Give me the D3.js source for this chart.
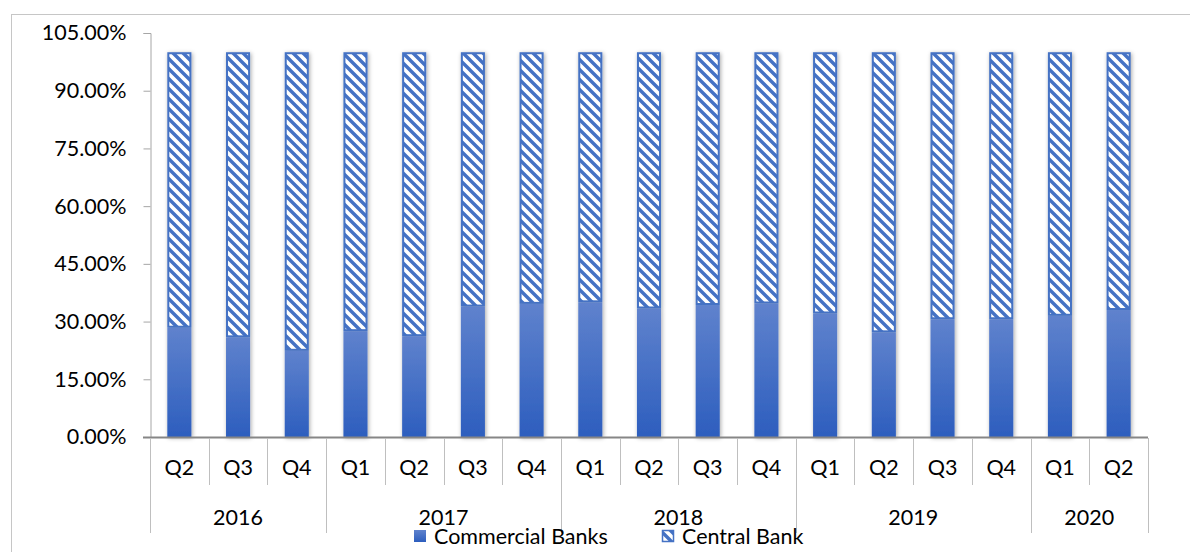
<!DOCTYPE html>
<meta charset="utf-8">
<style>
body { margin: 0; background: #fff; font-family: Lato, "Open Sans", sans-serif; }
svg text { fill: #000; }
</style>
<body>
<script src="https://cdn.jsdelivr.net/npm/d3@7"></script>
<script>
// data
var years = ["2016", "2017", "2018", "2019", "2020"];
var quarters = ["Q2", "Q3", "Q4", "Q1", "Q2", "Q3", "Q4", "Q1", "Q2", "Q3", "Q4", "Q1", "Q2", "Q3", "Q4", "Q1", "Q2"];
var quarterYear = [0, 0, 0, 1, 1, 1, 1, 2, 2, 2, 2, 3, 3, 3, 3, 4, 4];
var commercial = [28.4, 25.9, 22.4, 27.5, 26.2, 33.9, 34.6, 35.0, 33.4, 34.3, 34.7, 32.1, 27.2, 30.6, 30.6, 31.5, 33.0];
var central = [71.6, 74.1, 77.6, 72.5, 73.8, 66.1, 65.4, 65.0, 66.6, 65.7, 65.3, 67.9, 72.8, 69.4, 69.4, 68.5, 67.0];
var yTicks = [0, 15, 30, 45, 60, 75, 90, 105];
var seriesNames = ["Commercial Banks", "Central Bank"];

var W = 1190, H = 552;
var fs = "21.5px";
var svg = d3.select("body").append("svg")
    .attr("width", W).attr("height", H);

var defs = svg.append("defs");

var grad = defs.append("linearGradient")
    .attr("id", "blueGrad").attr("x1", 0).attr("y1", 0).attr("x2", 0).attr("y2", 1);
grad.append("stop").attr("offset", "0%").attr("stop-color", "#5f82cd");
grad.append("stop").attr("offset", "100%").attr("stop-color", "#2d5ebe");

var pat = defs.append("pattern")
    .attr("id", "hatch").attr("patternUnits", "userSpaceOnUse")
    .attr("width", 10).attr("height", 10);
pat.append("rect").attr("width", 10).attr("height", 10).attr("fill", "#fff");
pat.append("path")
    .attr("d", "M-3,-3L13,13M-3,7L3,13M7,-3L13,3")
    .attr("stroke", "#4472c4").attr("stroke-width", 3.4);

var shadow = defs.append("filter").attr("id", "shadow")
    .attr("x", "-50%").attr("y", "-10%").attr("width", "200%").attr("height", "120%");
shadow.append("feDropShadow")
    .attr("dx", 1).attr("dy", 1).attr("stdDeviation", 2)
    .attr("flood-color", "#000").attr("flood-opacity", 0.35);

// chart area border
svg.append("rect")
    .attr("x", 11.5).attr("y", 14.5).attr("width", 1200).attr("height", 600)
    .attr("fill", "none").attr("stroke", "#c6c6c6").attr("stroke-width", 1);

var x = d3.scaleBand()
    .domain(d3.range(quarters.length))
    .range([150, 1148])
    .paddingInner(0.59).paddingOuter(0.295);

var y = d3.scaleLinear().domain([0, 105]).range([437, 33]);

// y axis
var yAxis = d3.axisLeft(y)
    .tickValues(yTicks)
    .tickSize(7)
    .tickFormat(function(d) { return d3.format(".2%")(d / 100); });

var gy = svg.append("g")
    .attr("transform", "translate(150.5,0)")
    .call(yAxis);
gy.select(".domain").attr("stroke", "#a6a6a6");
gy.selectAll(".tick line").attr("stroke", "#a6a6a6");
gy.selectAll(".tick text")
    .attr("x", -24)
    .style("font-family", "Lato, 'Open Sans', sans-serif")
    .style("font-size", fs)
    .attr("fill", "#000");

// bars
var bars = svg.append("g");
commercial.forEach(function(v, i) {
    var g = bars.append("g").attr("filter", "url(#shadow)");
    g.append("rect")
        .attr("x", x(i)).attr("width", x.bandwidth())
        .attr("y", y(v)).attr("height", y(0) - y(v))
        .attr("fill", "url(#blueGrad)");
    g.append("rect")
        .attr("x", x(i) + 1).attr("width", x.bandwidth() - 2)
        .attr("y", y(v + central[i]) + 1).attr("height", y(v) - y(v + central[i]) - 2)
        .attr("fill", "url(#hatch)")
        .attr("stroke", "#4472c4").attr("stroke-width", 2);
});

// x axis line
svg.append("line")
    .attr("x1", 143).attr("x2", 1148)
    .attr("y1", 437.5).attr("y2", 437.5)
    .attr("stroke", "#868686").attr("stroke-width", 2);

// category separators
var step = x.step();
var x0 = 150;
for (var i = 0; i <= quarters.length; i++) {
    var isYear = i === 0 || i === quarters.length || quarterYear[i] !== quarterYear[i - 1];
    svg.append("line")
        .attr("x1", Math.round(x0 + i * step) + 0.5).attr("x2", Math.round(x0 + i * step) + 0.5)
        .attr("y1", 438).attr("y2", isYear ? 533 : 485)
        .attr("stroke", "#bfbfbf").attr("stroke-width", 1);
}

// quarter labels
svg.append("g").selectAll("text")
    .data(quarters)
    .join("text")
    .attr("x", function(d, i) { return x(i) + x.bandwidth() / 2; })
    .attr("y", 475)
    .attr("text-anchor", "middle")
    .style("font-size", fs)
    .text(function(d) { return d; });

// year labels
svg.append("g").selectAll("text")
    .data(years)
    .join("text")
    .attr("x", function(d, k) {
        var idx = d3.range(quarters.length).filter(function(i) { return quarterYear[i] === k; });
        return x0 + (idx[0] + (idx[idx.length - 1] + 1)) / 2 * step;
    })
    .attr("y", 525)
    .attr("text-anchor", "middle")
    .style("font-size", fs)
    .text(function(d) { return d; });

// legend
var leg = svg.append("g");
leg.append("rect").attr("x", 414).attr("y", 530).attr("width", 12).attr("height", 12)
    .attr("fill", "url(#blueGrad)");
leg.append("text").attr("x", 434).attr("y", 544)
    .style("font-size", fs).text(seriesNames[0]);
leg.append("rect").attr("x", 662.5).attr("y", 530.5).attr("width", 11).attr("height", 11)
    .attr("fill", "url(#hatch)").attr("stroke", "#4472c4").attr("stroke-width", 1.5);
leg.append("text").attr("x", 682).attr("y", 544)
    .style("font-size", fs).text(seriesNames[1]);
</script>
</body>
